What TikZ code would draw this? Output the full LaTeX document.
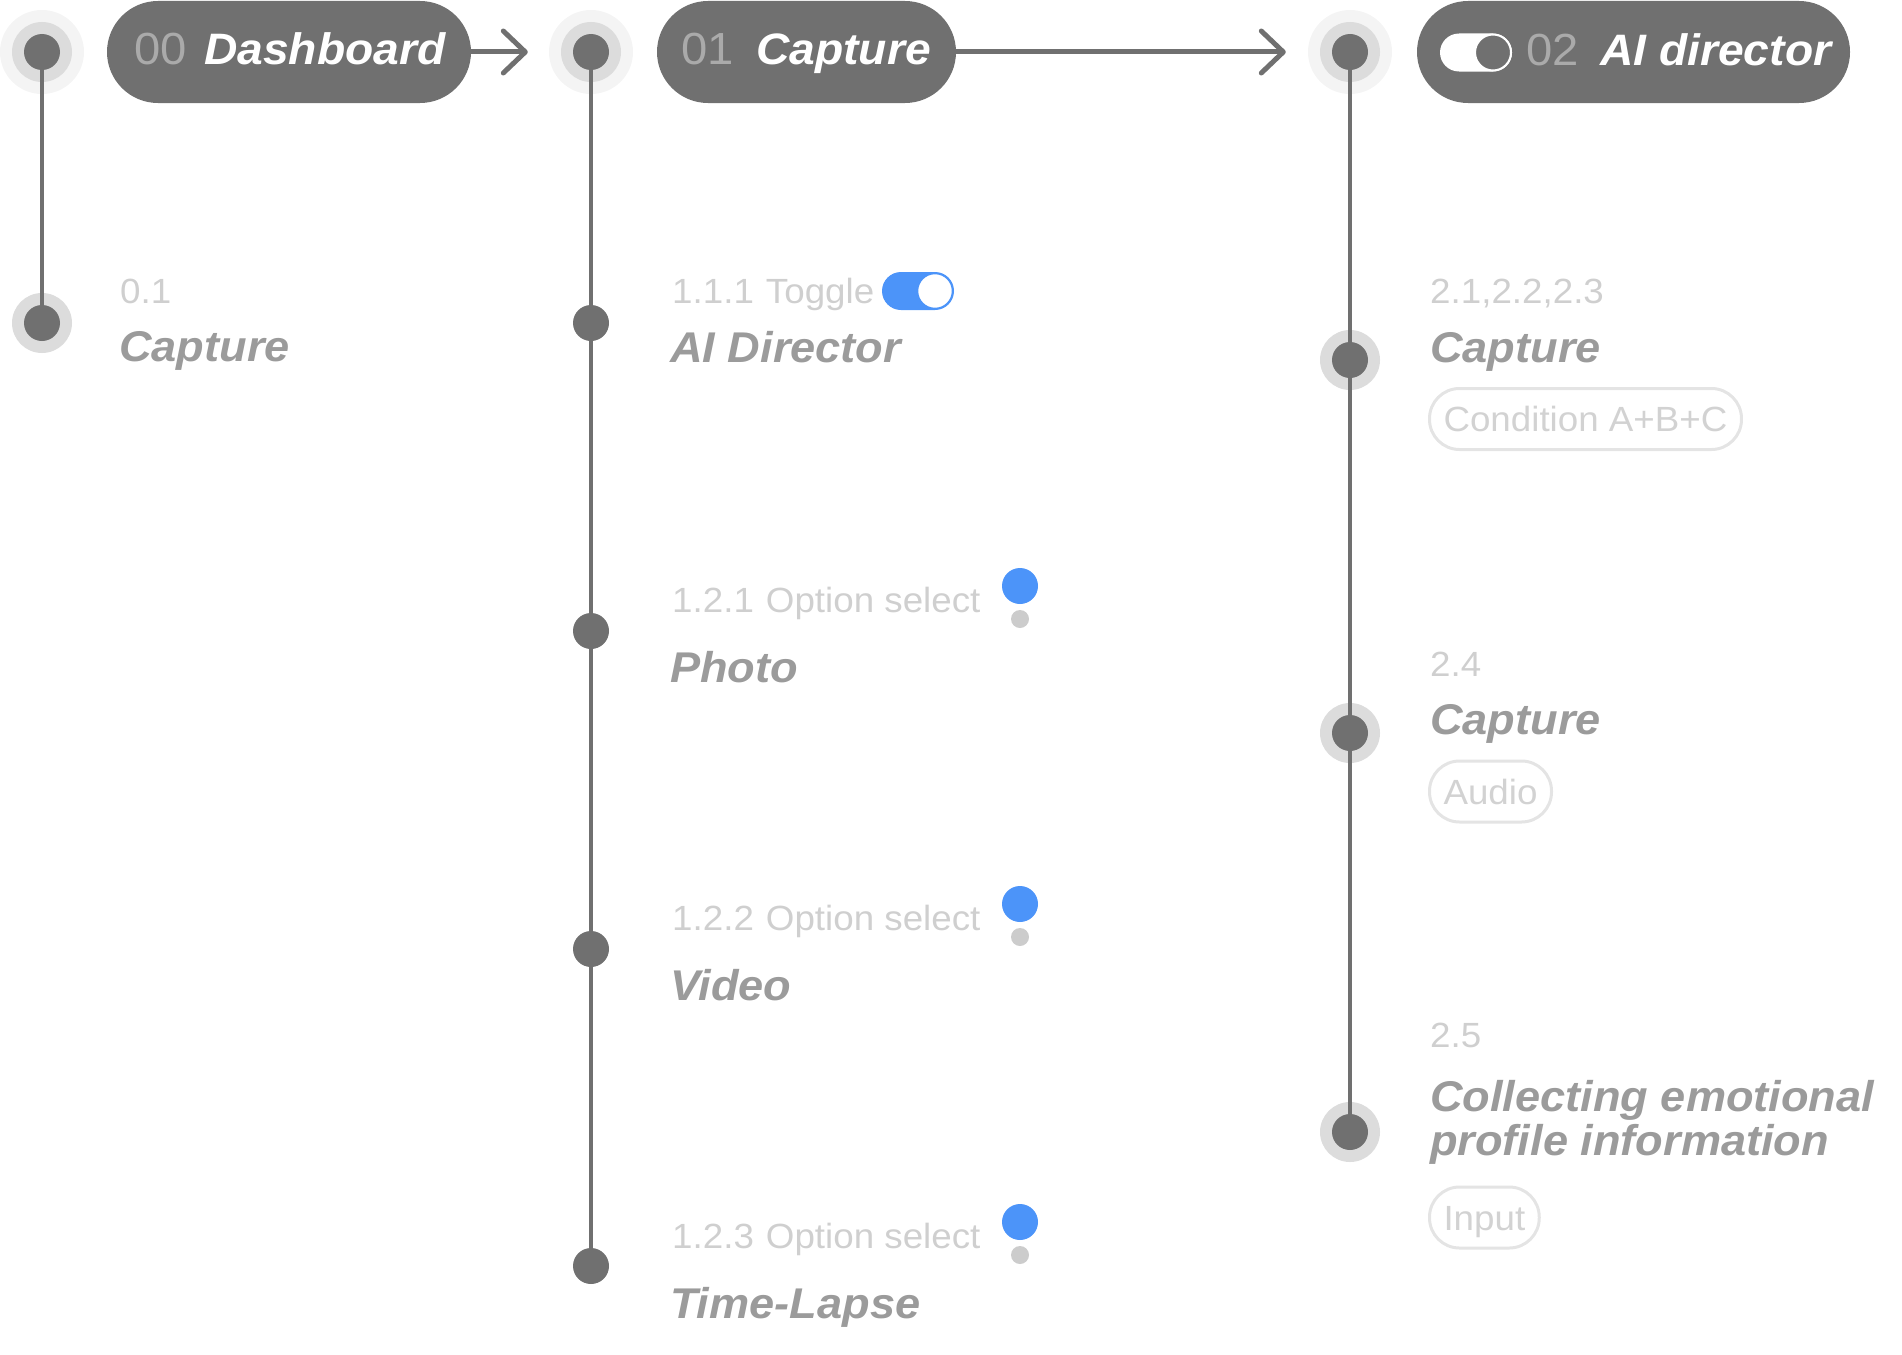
\documentclass[tikz,border=0pt]{standalone}
\usepackage{fontspec}
\setmainfont{Liberation Sans}[FakeStretch=1.05]
\usetikzlibrary{arrows.meta}
\definecolor{dk}{HTML}{707070}
\definecolor{ringcol}{HTML}{DCDCDC}
\definecolor{halocol}{HTML}{F4F4F4}
\definecolor{ttlc}{HTML}{9B9B9B}
\definecolor{lblc}{HTML}{CFCFCF}
\definecolor{numc}{HTML}{AAAAAA}
\definecolor{blu}{HTML}{4C94F9}
\definecolor{tagb}{HTML}{E4E4E4}
\definecolor{tagt}{HTML}{D2D2D2}
\definecolor{optg}{HTML}{CCCCCC}
\begin{document}
\begin{tikzpicture}[x=1pt,y=-1pt,
 halo/.style={circle,fill=halocol,minimum size=84pt,inner sep=0},
 ringc/.style={circle,fill=ringcol,minimum size=60pt,inner sep=0},
 dotc/.style={circle,fill=dk,minimum size=36pt,inner sep=0},
 hpill/.style={rectangle,rounded corners=51pt,fill=dk,minimum height=102pt,inner sep=0},
 hnum/.style={anchor=base west,inner sep=0,text=numc,font=\fontsize{45}{54}\selectfont},
 htitle/.style={anchor=base west,inner sep=0,text=white,font=\fontsize{44}{53}\selectfont\bfseries\itshape},
 lbl/.style={anchor=base west,inner sep=0,text=lblc,font=\fontsize{35}{42}\selectfont},
 ttl/.style={anchor=base west,inner sep=0,text=ttlc,font=\fontsize{43}{52}\selectfont\bfseries\itshape},
 tag/.style={draw=tagb,line width=3pt,rounded corners=30pt,minimum height=61pt,inner xsep=14pt,inner ysep=0pt,text height=25pt,text depth=0pt,anchor=west,text=tagt,font=\fontsize{35}{42}\selectfont},
 vline/.style={draw=dk,line width=3.5pt},
 harrow/.style={draw=dk,line width=5pt,line cap=round,-{Straight Barb[length=22pt,width=42pt,round]}},
 optbig/.style={circle,fill=blu,minimum size=36pt,inner sep=0},
 optsmall/.style={circle,fill=optg,minimum size=18pt,inner sep=0},
 togglebox/.style={rectangle,rounded corners=19pt,minimum width=72pt,minimum height=38pt,inner sep=0},
]
\useasboundingbox (0,0) rectangle (1902,1354);

% header pills
\node[hpill,minimum width=364pt] (p0) at (289,52) {};
\node[hpill,minimum width=299pt] (p1) at (806.5,52) {};
\node[hpill,minimum width=433pt] (p2) at (1633.5,52) {};
\node[hnum] (n0) at (134,65) {00};
\node[htitle] (t0) at (204,65) {Dashboard};
\node[hnum] (n1) at (681,65) {01};
\node[htitle] (t1) at (756,65) {Capture};
\node[togglebox,fill=white] (tg0) at (1476,52.5) {};
\node[circle,fill=dk,draw=white,line width=2pt,minimum size=36pt,inner sep=0] (kb0) at (1493,52.5) {};
\node[hnum] (n2) at (1526,66) {02};
\node[htitle] (t2) at (1600,66) {AI director};

% column 0
\node[halo] (h0) at (42,52) {};
\node[ringc] (r0) at (42,52) {};
\node[dotc] (d0) at (42,52) {};
\node[ringc] (r01) at (42,323) {};
\node[dotc] (d01) at (42,323) {};
\draw[vline] (d0) -- (d01);
\node[lbl] (l01) at (120,303) {0.1};
\node[ttl] (c01) at (119,361) {Capture};

% column 1
\node[halo] (h1) at (591,52) {};
\node[ringc] (r1) at (591,52) {};
\node[dotc] (d1) at (591,52) {};
\node[dotc] (d11) at (591,323) {};
\node[dotc] (d12) at (591,631) {};
\node[dotc] (d13) at (591,949) {};
\node[dotc] (d14) at (591,1266) {};
\draw[vline] (d1) -- (d14);

\node[lbl] (l11) at (672,303) {1.1.1\hspace{12pt}Toggle};
\node[ttl] (c11) at (670,362) {AI Director};
\node[togglebox,fill=blu] (tg1) at (918,291) {};
\node[circle,fill=white,draw=blu,line width=1.5pt,minimum size=35pt,inner sep=0] (kb1) at (935,291) {};

\node[lbl] (l12) at (672,612) {1.2.1\hspace{12pt}Option select};
\node[ttl] (c12) at (670,682) {Photo};
\node[optbig] (ob12) at (1020,586) {};
\node[optsmall] (os12) at (1020,619) {};

\node[lbl] (l13) at (672,930) {1.2.2\hspace{12pt}Option select};
\node[ttl] (c13) at (670,1000) {Video};
\node[optbig] (ob13) at (1020,904) {};
\node[optsmall] (os13) at (1020,937) {};

\node[lbl] (l14) at (672,1248) {1.2.3\hspace{12pt}Option select};
\node[ttl] (c14) at (670,1318) {Time-Lapse};
\node[optbig] (ob14) at (1020,1222) {};
\node[optsmall] (os14) at (1020,1255) {};

% column 2
\node[halo] (h2) at (1350,52) {};
\node[ringc] (r2) at (1350,52) {};
\node[dotc] (d2) at (1350,52) {};
\node[ringc] (r21) at (1350,360) {};
\node[dotc] (d21) at (1350,360) {};
\node[ringc] (r22) at (1350,733) {};
\node[dotc] (d22) at (1350,733) {};
\node[ringc] (r23) at (1350,1132) {};
\node[dotc] (d23) at (1350,1132) {};
\draw[vline] (d2) -- (d23);

\node[lbl] (l21) at (1430,303) {2.1,2.2,2.3};
\node[ttl] (c21) at (1430,362) {Capture};
\node[tag] (g21) at (1428,419) {Condition A+B+C};

\node[lbl] (l22) at (1430,676) {2.4};
\node[ttl] (c22) at (1430,734) {Capture};
\node[tag] (g22) at (1428,791.5) {Audio};

\node[lbl] (l23) at (1430,1047) {2.5};
\node[ttl] (c23a) at (1430,1111) {Collecting emotional};
\node[ttl] (c23b) at (1430,1155) {profile information};
\node[tag] (g23) at (1428,1217.5) {Input};

% arrows
\draw[harrow] (p0.east) -- ([xshift=-21pt]h1.west);
\draw[harrow] (p1.east) -- ([xshift=-22pt]h2.west);
\end{tikzpicture}
\end{document}
